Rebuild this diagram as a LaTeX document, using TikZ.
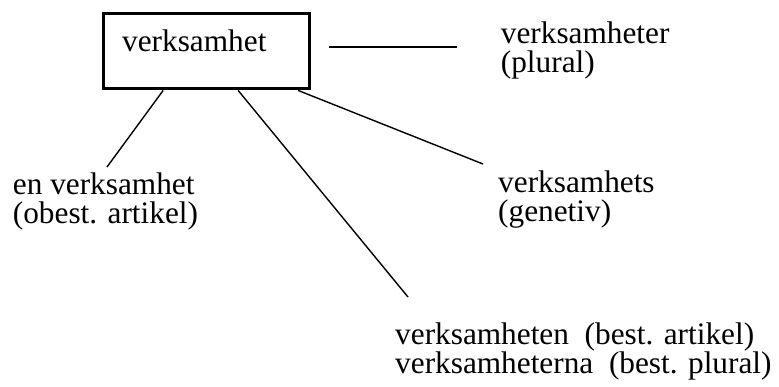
\documentclass[tikz,border=0pt]{standalone}
\usepackage{fontspec}
\setmainfont{Liberation Serif}
\tikzset{
	word/.style={inner sep=0pt, anchor=base west, align=left, font=\fontsize{31.3}{29}\selectfont},
	link/.style={line width=1.4pt}
}

\begin{document}
\begin{tikzpicture}[x=1pt, y=-1pt]
    \useasboundingbox (0, 0) rectangle (779, 387);
    \node[draw, line width=3.3pt, minimum width=206pt, minimum height=75pt, inner sep=0pt](box) at (206.8, 51.3){};
    \node[word](stem) at (122, 51.7){verksamhet};
    \node[word](plural) at (500.7, 73){verksamheter\\(plural)};
    \node[word](obest) at (12.7, 224){en verksamhet\\(obest. artikel)};
    \node[word](genetiv) at (498, 222){verksamhets\\(genetiv)};
    \node[word](best) at (395, 373){verksamheten~~(best. artikel)\\verksamheterna~~(best. plural)};
    \coordinate (sep-l) at (329, 47);
    \coordinate (sep-r) at (457, 47);
    \coordinate (end-obest) at (107, 167);
    \coordinate (end-best) at (408, 297);
    \coordinate (end-genetiv) at (483, 164);
    \draw[link](sep-l)--(sep-r);
    \draw[link]([xshift=61pt]box.south west)--(end-obest);
    \draw[link]([xshift=136pt]box.south west)--(end-best);
    \draw[link]([xshift=196pt]box.south west)--(end-genetiv);
\end{tikzpicture}
\end{document}
